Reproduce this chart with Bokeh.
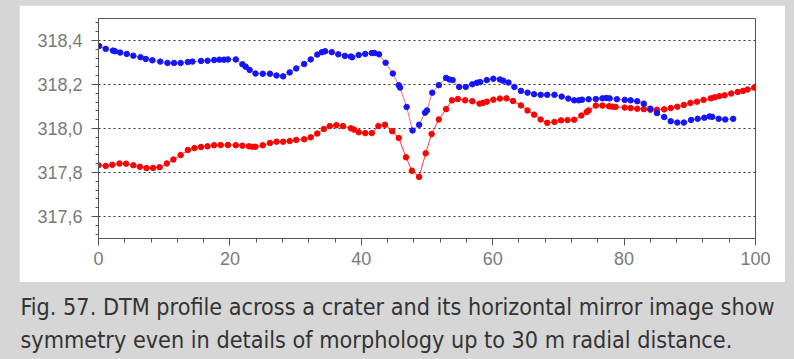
from bokeh.plotting import figure
from bokeh.models import SingleIntervalTicker, CustomJSTickFormatter, Label, Range1d
from bokeh.layouts import column
from bokeh.embed import file_html
from bokeh.resources import INLINE

# ---- data ----
blue_x = [-0.5, 0.1, 1.1, 2.2, 2.5, 3.3, 4.3, 5.3, 6.4, 7.2, 8.2, 9.4, 10.5, 11.5, 12.5, 13.6,
          14.3, 15.6, 16.6, 17.6, 18.4, 19.1, 19.7, 20.9, 21.9, 22.4, 23.0, 23.9, 25.0, 26.1,
          27.1, 28.1, 29.1, 30.1, 31.3, 32.3, 33.3, 34.0, 34.5, 35.5, 36.5, 37.5, 38.4, 38.6,
          39.6, 40.6, 41.6, 42.0, 42.7, 43.7, 44.8, 45.7, 45.9, 46.9, 47.8, 48.8, 49.7, 50.0,
          50.8, 51.8, 52.9, 53.4, 53.9, 54.9, 55.9, 56.9, 57.6, 58.1, 59.1, 60.1, 61.1, 61.6,
          62.4, 63.3, 64.3, 65.3, 66.3, 67.3, 68.3, 69.4, 70.5, 71.5, 72.4, 73.1, 73.6, 74.6,
          75.7, 76.7, 77.3, 77.8, 78.9, 80.1, 81.0, 82.0, 83.0, 84.0, 85.0, 86.1, 87.1, 88.1,
          89.1, 90.2, 91.2, 92.2, 93.0, 93.4, 94.4, 95.4, 96.6]
blue_y = [318.388, 318.375, 318.362, 318.354, 318.351, 318.345, 318.339, 318.331, 318.324, 318.316,
          318.310, 318.304, 318.298, 318.298, 318.298, 318.302, 318.304, 318.307, 318.308, 318.311,
          318.313, 318.313, 318.314, 318.314, 318.292, 318.281, 318.266, 318.250, 318.249, 318.249,
          318.241, 318.237, 318.255, 318.273, 318.293, 318.314, 318.336, 318.347, 318.351, 318.347,
          318.337, 318.330, 318.327, 318.324, 318.334, 318.339, 318.343, 318.343, 318.337, 318.299,
          318.250, 318.197, 318.186, 318.098, 317.991, 318.017, 318.072, 318.082, 318.163, 318.197,
          318.230, 318.223, 318.220, 318.189, 318.189, 318.201, 318.208, 318.211, 318.220, 318.226,
          318.223, 318.217, 318.209, 318.189, 318.171, 318.163, 318.156, 318.153, 318.153, 318.153,
          318.145, 318.136, 318.128, 318.128, 318.131, 318.133, 318.134, 318.137, 318.139, 318.137,
          318.133, 318.130, 318.128, 318.124, 318.113, 318.090, 318.070, 318.052, 318.033, 318.027,
          318.027, 318.039, 318.044, 318.049, 318.055, 318.053, 318.044, 318.041, 318.044]

red_x = [0.0, 1.1, 2.1, 3.2, 4.2, 5.3, 6.3, 7.3, 8.3, 9.3, 10.4, 11.4, 12.5, 13.6, 14.6, 15.6,
         16.6, 17.6, 18.6, 19.7, 20.9, 21.9, 22.9, 23.4, 23.9, 25.0, 26.1, 27.1, 28.1, 29.1,
         30.1, 31.3, 32.3, 33.3, 34.3, 35.2, 36.2, 37.2, 38.4, 38.9, 39.6, 40.6, 41.6, 42.6,
         43.6, 44.7, 45.7, 46.8, 47.7, 48.8, 49.8, 50.7, 51.8, 52.9, 53.8, 54.7, 55.8, 56.9,
         58.0, 58.5, 59.1, 60.1, 61.1, 62.1, 63.1, 64.3, 65.3, 66.3, 67.3, 68.3, 69.4, 70.4,
         71.4, 72.4, 73.5, 74.3, 74.6, 75.7, 76.7, 77.7, 78.2, 78.7, 80.1, 81.0, 82.0, 83.0,
         84.0, 85.0, 86.1, 87.1, 88.1, 89.1, 90.1, 91.1, 92.1, 93.2, 93.8, 94.5, 95.3, 96.3,
         97.3, 98.1, 98.8, 99.8]
red_y = [317.833, 317.830, 317.835, 317.841, 317.840, 317.833, 317.826, 317.820, 317.821, 317.824,
         317.841, 317.859, 317.879, 317.902, 317.911, 317.916, 317.919, 317.924, 317.925, 317.925,
         317.924, 317.922, 317.919, 317.917, 317.917, 317.924, 317.934, 317.940, 317.940, 317.943,
         317.948, 317.951, 317.960, 317.977, 317.998, 318.011, 318.015, 318.011, 318.001, 317.995,
         317.983, 317.979, 317.979, 318.011, 318.017, 317.988, 317.957, 317.869, 317.808, 317.780,
         317.887, 317.975, 318.041, 318.088, 318.128, 318.134, 318.128, 318.124, 318.113, 318.116,
         318.122, 318.131, 318.136, 318.137, 318.125, 318.105, 318.082, 318.063, 318.041, 318.026,
         318.030, 318.037, 318.038, 318.040, 318.059, 318.075, 318.082, 318.104, 318.104, 318.101,
         318.099, 318.098, 318.095, 318.093, 318.090, 318.088, 318.085, 318.085, 318.087, 318.093,
         318.099, 318.107, 318.116, 318.122, 318.130, 318.137, 318.142, 318.147, 318.151, 318.159,
         318.166, 318.171, 318.177, 318.186]

x_ticks_interval = 20
y_ticks_interval = 0.2
caption_lines = [
    "Fig. 57. DTM profile across a crater and its horizontal mirror image show",
    "symmetry even in details of morphology up to 30 m radial distance.",
]

GREY = "#d6d6d6"
AX = "#555555"

p = figure(width=766, height=277, x_range=Range1d(0, 100), y_range=Range1d(317.5, 318.5),
           output_backend="svg", toolbar_location=None,
           min_border_left=79, min_border_right=30, min_border_top=13, min_border_bottom=44,
           border_fill_color="white", background_fill_color="white",
           outline_line_color=AX, margin=(5, 0, 0, 19), frame_align=False)

p.xaxis.ticker = SingleIntervalTicker(interval=x_ticks_interval, num_minor_ticks=5)
p.yaxis.ticker = SingleIntervalTicker(interval=y_ticks_interval, num_minor_ticks=5)
p.yaxis.formatter = CustomJSTickFormatter(code="return tick.toFixed(1).replace('.', ',');")

for ax in (p.xaxis[0], p.yaxis[0]):
    ax.axis_line_color = AX
    ax.major_tick_line_color = AX
    ax.minor_tick_line_color = AX
    ax.major_tick_in = 0
    ax.minor_tick_in = 0
    ax.major_tick_out = 7
    ax.major_label_text_font = "Liberation Sans"
    ax.major_label_text_font_size = "18px"
    ax.major_label_text_color = "#7a7a7a"
p.xaxis.minor_tick_out = 4
p.yaxis.minor_tick_out = 3
p.xaxis.major_label_standoff = 6
p.yaxis.major_label_standoff = 9

p.xgrid.visible = False
p.ygrid.grid_line_color = "#333333"
p.ygrid.grid_line_dash = "2 3"
p.ygrid.grid_line_width = 1

p.line(red_x, red_y, line_color="#ff0000", line_width=1, line_alpha=0.8)
p.scatter(red_x, red_y, size=5.5, fill_color="#ff0000", line_color="#ff0000")
p.line(blue_x, blue_y, line_color="#ff0000", line_width=1, line_alpha=0.6)
p.scatter(blue_x, blue_y, size=5.5, fill_color="#1414ff", line_color="#1414ff")

cap = figure(width=794, height=77, x_range=Range1d(0, 1), y_range=Range1d(0, 1),
             x_axis_type=None, y_axis_type=None, output_backend="svg", toolbar_location=None,
             min_border=0, outline_line_color=None, frame_align=False,
             background_fill_color=GREY, border_fill_color=GREY)
cap.grid.visible = False
for txt, yb in zip(caption_lines, [53, 20]):
    cap.add_layout(Label(x=20, y=yb, x_units="screen", y_units="screen", text=txt,
                         text_font="DejaVu Sans Condensed, Liberation Sans", text_font_size="23.2px",
                         text_color="#333333", text_baseline="alphabetic"))

layout = column(p, cap, spacing=0)
html = file_html(layout, INLINE)
html = html.replace("</head>", "<style>html,body{background:#d6d6d6;overflow:hidden;}</style></head>", 1)
open("out.html", "w").write(html)
